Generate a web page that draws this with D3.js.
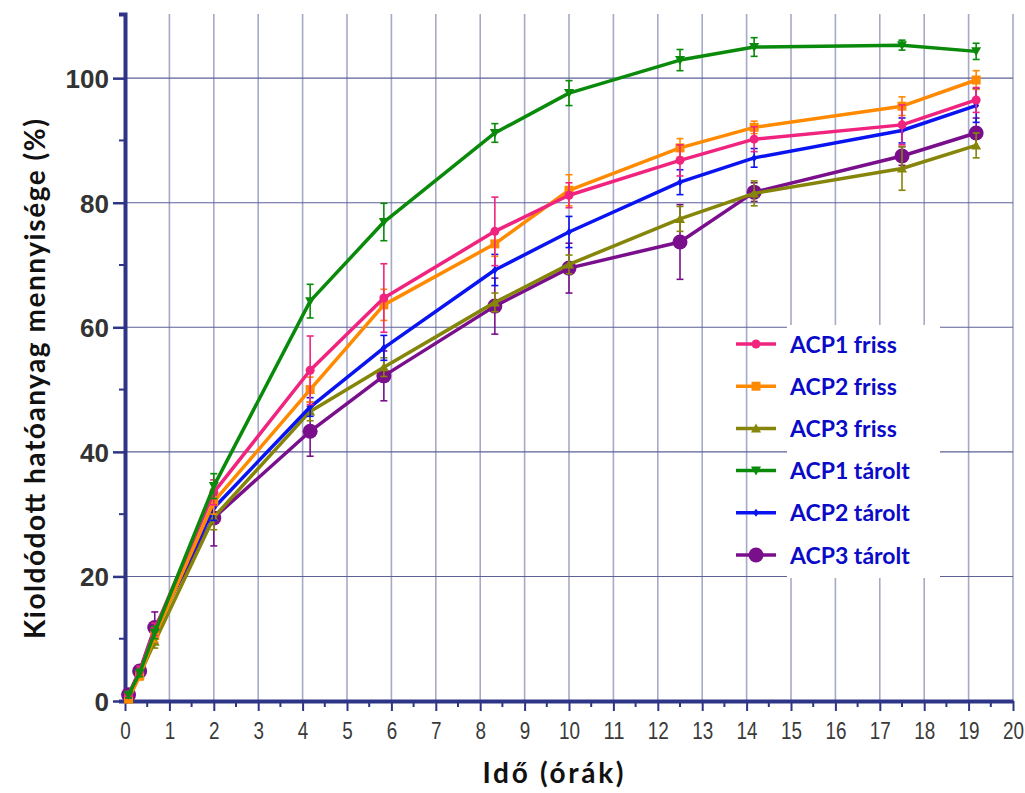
<!DOCTYPE html>
<html>
<head>
<meta charset="utf-8">
<script src="https://cdn.jsdelivr.net/npm/d3@7"></script>
<style>
  html, body { margin: 0; padding: 0; background: #fff; }
  svg { display: block; }
</style>
</head>
<body>
<svg id="chart" width="1025" height="793"></svg>
<script>
// Sampling times (hours)
const times = [0.08, 0.33, 0.67, 2, 4.17, 5.83, 8.33, 10, 12.5, 14.17, 17.5, 19.17];

// Cumulative released amount (%) per formulation, with standard deviations
const acp1Friss   = [1.0, 4.8, 11.5, 33.5, 53.1, 64.7, 75.4, 81.2, 86.8, 90.2, 92.5, 96.5];
const acp1FrissSd = [0.5, 0.8, 1.0, 2.0, 5.5, 5.5, 5.5, 2.0, 2.5, 2.0, 3.2, 2.0];
const acp2Friss   = [0.3, 4.0, 10.5, 32.0, 50.0, 63.6, 73.4, 82.0, 88.8, 92.1, 95.5, 99.7];
const acp2FrissSd = [0.5, 0.6, 1.0, 2.0, 2.0, 2.5, 2.0, 2.5, 1.5, 1.0, 1.5, 1.5];
const acp3Friss   = [0.5, 4.2, 9.5, 29.5, 46.5, 53.6, 64.0, 70.1, 77.4, 81.5, 85.5, 89.2];
const acp3FrissSd = [0.5, 0.6, 1.0, 2.0, 1.5, 1.5, 1.5, 1.5, 2.0, 2.0, 3.5, 2.0];
const acp1Tarolt   = [1.0, 4.5, 11.0, 34.5, 64.2, 76.9, 91.2, 97.6, 102.9, 105.0, 105.3, 104.3];
const acp1TaroltSd = [0.5, 0.6, 1.0, 2.0, 2.7, 3.0, 1.5, 2.0, 1.7, 1.5, 0.8, 1.3];
const acp2Tarolt   = [0.8, 4.5, 11.0, 31.0, 47.2, 56.7, 69.2, 75.3, 83.3, 87.2, 91.6, 95.6];
const acp2TaroltSd = [0.5, 0.6, 1.0, 2.0, 1.5, 2.0, 2.5, 2.5, 2.0, 1.5, 2.0, 2.7];
const acp3Tarolt   = [1.0, 4.8, 11.8, 29.4, 43.3, 52.2, 63.4, 69.5, 73.7, 81.7, 87.5, 91.2];
const acp3TaroltSd = [0.5, 0.6, 2.5, 4.5, 4.0, 4.0, 4.5, 4.0, 6.0, 1.5, 1.5, 2.4];

const seriesNames = ["ACP1 friss", "ACP2 friss", "ACP3 friss", "ACP1 tárolt", "ACP2 tárolt", "ACP3 tárolt"];
const xTickValues = d3.range(0, 21);
const yTickValues = [0, 20, 40, 60, 80, 100];

const series = [
  { name: seriesNames[0], values: acp1Friss,  sd: acp1FrissSd,  color: "#f0247f", marker: "circle" },
  { name: seriesNames[1], values: acp2Friss,  sd: acp2FrissSd,  color: "#ff8a00", marker: "square" },
  { name: seriesNames[2], values: acp3Friss,  sd: acp3FrissSd,  color: "#85850a", marker: "triUp" },
  { name: seriesNames[3], values: acp1Tarolt, sd: acp1TaroltSd, color: "#0a8a0a", marker: "triDown" },
  { name: seriesNames[4], values: acp2Tarolt, sd: acp2TaroltSd, color: "#0a14f0", marker: "diamond" },
  { name: seriesNames[5], values: acp3Tarolt, sd: acp3TaroltSd, color: "#7a0f8c", marker: "bigCircle" }
];

const svg = d3.select("#chart");
const plotLeft = 125, plotRight = 1013, plotTop = 14, plotBottom = 701;

const x = d3.scaleLinear().domain([0, 20]).range([plotLeft, plotRight]);
const y = d3.scaleLinear().domain([0, 110.3]).range([plotBottom, plotTop]);

// Grid
const grid = svg.append("g");
grid.selectAll("line.v").data(d3.range(1, 21)).join("line")
  .attr("x1", d => x(d)).attr("x2", d => x(d))
  .attr("y1", plotTop).attr("y2", plotBottom)
  .attr("stroke", "#a6a9c8").attr("stroke-width", 1.6);
grid.selectAll("line.h").data([20, 40, 60, 80, 100]).join("line")
  .attr("x1", plotLeft).attr("x2", plotRight)
  .attr("y1", d => y(d)).attr("y2", d => y(d))
  .attr("stroke", "#5d6196").attr("stroke-width", 1.1);

// Legend background (text area only)
svg.append("rect").attr("x", 787).attr("y", 325).attr("width", 153).attr("height", 253).attr("fill", "#fff");

// Axes
const axisColor = "#2e3586";
const xMinor = svg.append("g");
xMinor.selectAll("line").data(d3.range(0.5, 20, 1)).join("line")
  .attr("x1", d => x(d)).attr("x2", d => x(d))
  .attr("y1", plotBottom).attr("y2", plotBottom + 6)
  .attr("stroke", axisColor).attr("stroke-width", 2);
const yMinor = svg.append("g");
yMinor.selectAll("line").data([10, 30, 50, 70, 90]).join("line")
  .attr("x1", plotLeft - 6).attr("x2", plotLeft)
  .attr("y1", d => y(d)).attr("y2", d => y(d))
  .attr("stroke", axisColor).attr("stroke-width", 2);

const xAxis = svg.append("g").attr("transform", `translate(0,${plotBottom})`)
  .call(d3.axisBottom(x).tickValues(xTickValues).tickSize(10).tickSizeOuter(0).tickPadding(0));
xAxis.select(".domain").attr("stroke", axisColor).attr("stroke-width", 4);
xAxis.selectAll(".tick line").attr("stroke", axisColor).attr("stroke-width", 2);
xAxis.selectAll(".tick text")
  .attr("y", 38).attr("dy", null)
  .attr("fill", "#3a3a3a").attr("font-family", "'Liberation Sans', Arial, sans-serif")
  .attr("font-size", 23.5)
  .attr("textLength", d => String(d).length * 10.5)
  .attr("lengthAdjust", "spacingAndGlyphs");

const yAxis = svg.append("g").attr("transform", `translate(${plotLeft},0)`)
  .call(d3.axisLeft(y).tickValues(yTickValues).tickSize(12).tickSizeOuter(6).tickPadding(4));
yAxis.select(".domain").attr("stroke", axisColor).attr("stroke-width", 4);
yAxis.selectAll(".tick line").attr("stroke", axisColor).attr("stroke-width", 2.5);
yAxis.selectAll(".tick text")
  .attr("dy", "0.36em")
  .attr("fill", "#333").attr("font-family", "'Liberation Sans', Arial, sans-serif")
  .attr("font-size", 26).attr("font-weight", "bold");

// Axis titles
svg.append("text").attr("x", 553).attr("y", 783).attr("text-anchor", "middle")
  .attr("font-family", "Lato, 'Open Sans', sans-serif").attr("font-weight", "bold")
  .attr("font-size", 28).attr("fill", "#111")
  .attr("textLength", 141).attr("lengthAdjust", "spacing")
  .text("Idő (órák)");
svg.append("text").attr("transform", "translate(45,379) rotate(-90)").attr("text-anchor", "middle")
  .attr("font-family", "Lato, 'Open Sans', sans-serif").attr("font-weight", "bold")
  .attr("font-size", 28).attr("fill", "#111")
  .attr("textLength", 520).attr("lengthAdjust", "spacing")
  .text("Kioldódott hatóanyag mennyisége (%)");

// Marker drawing
function drawMarker(g, type, color, cx, cy) {
  switch (type) {
    case "circle":
      g.append("circle").attr("cx", cx).attr("cy", cy).attr("r", 4.5).attr("fill", color); break;
    case "bigCircle":
      g.append("circle").attr("cx", cx).attr("cy", cy).attr("r", 7.5).attr("fill", color); break;
    case "square":
      g.append("rect").attr("x", cx - 4.5).attr("y", cy - 4.5).attr("width", 9).attr("height", 9).attr("fill", color); break;
    case "triUp":
      g.append("path").attr("d", `M${cx},${cy - 5}L${cx + 5},${cy + 4}L${cx - 5},${cy + 4}Z`).attr("fill", color); break;
    case "triDown":
      g.append("path").attr("d", `M${cx},${cy + 5}L${cx + 5},${cy - 4}L${cx - 5},${cy - 4}Z`).attr("fill", color); break;
    case "diamond":
      g.append("path").attr("d", `M${cx},${cy - 4}L${cx + 3},${cy}L${cx},${cy + 4}L${cx - 3},${cy}Z`).attr("fill", color); break;
  }
}

const line = d3.line().x(d => x(d.t)).y(d => y(d.v));
const plot = svg.append("g");

// Drawing order: purple first, green last
const order = [5, 2, 4, 1, 0, 3];
order.forEach(i => {
  const s = series[i];
  const pts = times.map((t, k) => ({ t, v: s.values[k], sd: s.sd[k] }));
  const g = plot.append("g");
  // error bars
  pts.forEach(p => {
    const cx = x(p.t), y1 = y(p.v - p.sd), y2 = y(p.v + p.sd);
    g.append("line").attr("x1", cx).attr("x2", cx).attr("y1", y1).attr("y2", y2)
      .attr("stroke", s.color).attr("stroke-width", 1.6);
    [y1, y2].forEach(yy => g.append("line").attr("x1", cx - 3.5).attr("x2", cx + 3.5)
      .attr("y1", yy).attr("y2", yy).attr("stroke", s.color).attr("stroke-width", 1.6));
  });
  g.append("path").datum(pts).attr("d", line).attr("fill", "none")
    .attr("stroke", s.color).attr("stroke-width", 3.5).attr("stroke-linejoin", "round");
  pts.forEach(p => drawMarker(g, s.marker, s.color, x(p.t), y(p.v)));
});

// Legend
const legend = svg.append("g");
series.forEach((s, i) => {
  const yy = 344 + i * 42.2;
  legend.append("line").attr("x1", 736).attr("x2", 776).attr("y1", yy).attr("y2", yy)
    .attr("stroke", s.color).attr("stroke-width", 3.5);
  drawMarker(legend, s.marker, s.color, 756, yy);
  legend.append("text").attr("x", 790).attr("y", yy + 8.5)
    .attr("font-family", "Lato, 'Open Sans', sans-serif").attr("font-weight", "bold")
    .attr("font-size", 23).attr("fill", "#0a0ac8").text(s.name);
});
</script>
</body>
</html>
